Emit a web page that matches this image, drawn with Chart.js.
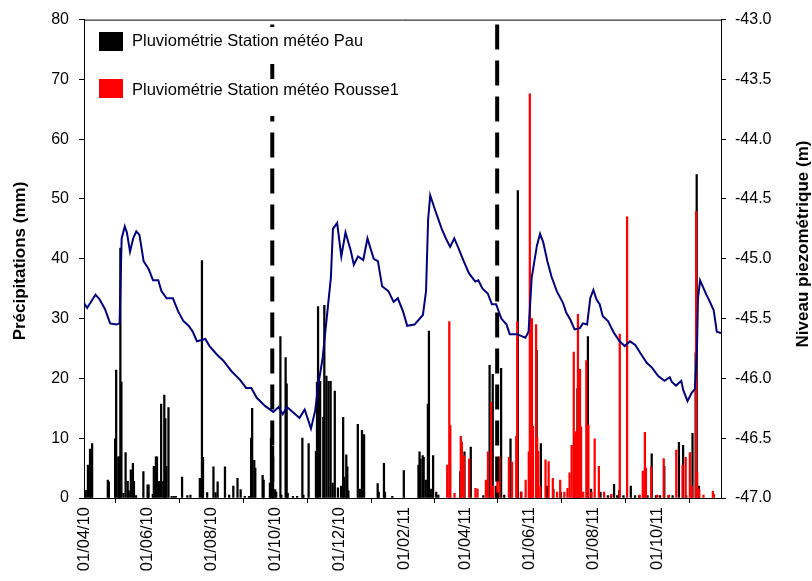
<!DOCTYPE html>
<html>
<head>
<meta charset="utf-8">
<script src="https://cdn.jsdelivr.net/npm/chart.js@4.4.1/dist/chart.umd.min.js"></script>
<style>
  html, body { margin: 0; padding: 0; background: #fff; }
  #chart { display: block; }
</style>
</head>
<body>
<canvas id="chart" width="812" height="581"></canvas>
<script>
// x values are days since 01/04/10
const tickDays = [0, 61, 122, 183, 244, 306, 365, 426, 487, 548, 609];
const tickLabels = ['01/04/10', '01/06/10', '01/08/10', '01/10/10', '01/12/10', '01/02/11',
    '01/04/11', '01/06/11', '01/08/11', '01/10/11', ''];

const seriesNames = ['Pluviométrie Station météo Pau', 'Pluviométrie Station météo Rousse1'];
const seriesColors = ['#000000', '#ff0000'];

// Pluviométrie Pau (mm)
const pauDays = [1, 3, 5, 6, 7, 22, 23, 29, 30, 32, 33, 34, 35, 37, 39, 41, 42, 44, 46, 47,
    49, 56, 60, 61, 65, 66, 68, 69, 71, 73, 75, 76, 77, 78, 80, 83, 85, 87, 93, 98,
    101, 110, 112, 113, 117, 123, 125, 127, 134, 138, 142, 146, 149, 153, 157, 159, 160, 162, 163, 170,
    171, 177, 178, 179, 180, 182, 183, 187, 188, 192, 193, 194, 199, 203, 208, 209, 214, 221, 222, 223,
    225, 228, 229, 231, 233, 235, 237, 239, 242, 245, 247, 248, 250, 251, 252, 261, 263, 265, 267, 280,
    281, 286, 287, 294, 305, 319, 320, 321, 323, 324, 326, 328, 329, 331, 333, 336, 338, 359, 363, 369,
    381, 387, 390, 393, 398, 401, 407, 414, 417, 432, 436, 442, 448, 455, 468, 471, 473, 481, 484, 493,
    500, 503, 506, 509, 511, 515, 522, 526, 530, 534, 538, 542, 546, 550, 554, 558, 562, 568, 572, 575,
    581, 584, 585, 587];
const pauRain = [1.3, 5.5, 8.2, 2.4, 9.1, 3.0, 2.7, 9.9, 21.4, 6.9, 6.9, 41.8, 19.4, 0.8, 7.6, 2.8, 1.2, 4.7, 5.8, 2.8,
    0.4, 4.4, 2.2, 2.2, 0.6, 5.3, 6.9, 6.9, 2.8, 15.7, 2.8, 17.2, 13.3, 5.3, 15.1, 0.3, 0.3, 0.3, 3.5, 0.4,
    0.5, 3.3, 39.7, 6.8, 0.9, 5.2, 0.9, 2.7, 5.2, 0.5, 2.0, 3.3, 1.4, 0.3, 0.3, 10.0, 15.0, 6.3, 5.0, 3.8,
    3.0, 2.5, 10.0, 2.8, 8.7, 1.4, 1.0, 27.0, 0.5, 23.5, 19.1, 0.8, 0.3, 0.3, 10.0, 0.5, 9.1, 7.8, 19.4, 32.0,
    19.5, 13.5, 32.2, 20.4, 19.5, 19.5, 2.5, 17.9, 1.7, 2.0, 13.5, 3.5, 7.2, 5.2, 1.2, 12.3, 1.5, 11.3, 10.6, 2.4,
    1.0, 5.8, 1.0, 0.3, 4.6, 5.5, 7.7, 6.5, 7.1, 6.8, 3.0, 15.7, 27.9, 1.5, 7.1, 1.0, 0.5, 4.4, 7.7, 8.5,
    0.4, 22.2, 20.7, 2.0, 21.7, 0.5, 9.9, 51.4, 1.0, 24.7, 9.1, 2.0, 1.5, 1.0, 10.2, 18.3, 20.5, 27.0, 1.5, 1.0,
    0.4, 0.4, 2.3, 0.4, 1.3, 0.4, 2.0, 0.4, 0.4, 0.4, 0.4, 7.4, 0.4, 0.4, 5.3, 0.4, 0.4, 9.3, 8.8, 0.4,
    10.8, 24.3, 54.1, 2.0];

// Pluviométrie Rousse1 (mm)
const rousseDays = [348, 350, 351, 355, 361, 362, 364, 369, 375, 377, 385, 387, 390, 392, 396, 398, 407, 410, 414, 415,
    419, 423, 426, 427, 428, 429, 430, 433, 434, 435, 437, 442, 445, 449, 453, 456, 460, 463, 465, 467,
    469, 471, 473, 475, 476, 478, 481, 483, 486, 489, 493, 498, 505, 513, 520, 532, 535, 537, 538, 543,
    549, 555, 560, 567, 573, 576, 580, 582, 586, 587, 589, 593, 602, 603];
const rousseRain = [5.5, 29.5, 12.1, 0.8, 10.3, 9.4, 7.1, 6.5, 1.6, 1.5, 3.0, 7.7, 16.0, 2.0, 6.6, 6.9, 6.8, 6.0, 10.3, 29.5,
    1.0, 3.0, 7.7, 67.6, 6.0, 30.0, 12.0, 29.0, 10.0, 7.8, 2.0, 6.4, 6.1, 3.3, 1.0, 3.0, 1.0, 1.6, 4.2, 8.8,
    24.4, 11.1, 30.7, 21.5, 11.9, 1.0, 23.0, 12.2, 1.0, 9.9, 5.3, 1.0, 0.6, 27.4, 47.0, 0.5, 4.5, 11.0, 5.0, 5.2,
    0.5, 6.6, 0.5, 8.0, 5.5, 6.8, 7.6, 2.0, 47.9, 4.3, 1.5, 0.5, 1.1, 0.6];

// Niveau piézométrique (m)
const piezoDays = [0, 3, 6, 11, 15, 20, 25, 31, 34, 36, 39, 41, 44, 47, 50, 53, 57, 62, 66, 71,
    74, 79, 85, 90, 95, 100, 104, 108, 116, 120, 127, 133, 141, 149, 155, 160, 165, 173, 181, 186,
    190, 194, 202, 206, 211, 217, 221, 224, 228, 232, 236, 238, 242, 246, 250, 255, 258, 262, 267, 271,
    277, 281, 285, 291, 296, 300, 305, 309, 316, 324, 327, 329, 331, 336, 342, 346, 350, 354, 358, 363,
    368, 374, 377, 381, 386, 390, 394, 399, 404, 407, 414, 422, 425, 428, 433, 436, 439, 443, 447, 452,
    458, 461, 465, 469, 474, 477, 481, 484, 487, 490, 493, 496, 501, 506, 512, 517, 522, 527, 532, 538,
    543, 549, 555, 560, 562, 566, 571, 573, 577, 581, 584, 586, 587, 589, 591, 595, 599, 602, 605, 609];
const piezoLevel = [-45.37, -45.41, -45.37, -45.30, -45.34, -45.42, -45.54, -45.55, -45.54, -44.83, -44.73, -44.78, -44.94, -44.83, -44.77, -44.80, -45.02, -45.09, -45.18, -45.18,
    -45.27, -45.33, -45.33, -45.44, -45.52, -45.56, -45.61, -45.69, -45.67, -45.73, -45.80, -45.85, -45.94, -46.01, -46.08, -46.08, -46.16, -46.23, -46.28, -46.24,
    -46.30, -46.24, -46.30, -46.33, -46.26, -46.42, -46.27, -46.05, -45.84, -45.50, -45.16, -44.75, -44.70, -44.98, -44.78, -44.93, -45.05, -44.98, -45.01, -44.83,
    -45.00, -45.02, -45.23, -45.27, -45.36, -45.33, -45.44, -45.56, -45.55, -45.47, -45.27, -44.67, -44.47, -44.60, -44.75, -44.83, -44.90, -44.83, -44.91, -45.02,
    -45.12, -45.19, -45.18, -45.25, -45.29, -45.38, -45.38, -45.50, -45.55, -45.63, -45.63, -45.66, -45.61, -45.16, -44.89, -44.79, -44.86, -45.02, -45.15, -45.27,
    -45.37, -45.45, -45.51, -45.59, -45.58, -45.54, -45.55, -45.33, -45.26, -45.34, -45.38, -45.48, -45.52, -45.61, -45.69, -45.73, -45.69, -45.72, -45.79, -45.87,
    -45.91, -45.98, -46.02, -45.99, -46.03, -46.06, -46.02, -46.10, -46.19, -46.12, -46.09, -45.77, -45.33, -45.18, -45.22, -45.30, -45.37, -45.43, -45.61, -45.62];

// vertical dashed markers
const markerDays = [180, 395];
const markerTop = 79.2;

const FONT = "'Liberation Sans', Arial, sans-serif";

const toPoints = (xs, ys) => xs.map((x, i) => ({ x: x, y: ys[i] }));

const markerSets = markerDays.map(d => ({
    type: 'line',
    data: [{ x: d, y: markerTop }, { x: d, y: 0 }],
    yAxisID: 'y',
    borderColor: '#000',
    borderWidth: 4,
    borderDash: [25, 11],
    borderCapStyle: 'butt',
    pointRadius: 0,
    order: 0
}));

const overlay = {
    id: 'overlay',
    afterDraw(chart) {
        const ctx = chart.ctx;
        const area = chart.chartArea;
        ctx.save();

        // top frame
        ctx.strokeStyle = '#000';
        ctx.lineWidth = 1;
        ctx.beginPath();
        ctx.moveTo(area.left, area.top + 0.5);
        ctx.lineTo(area.right, area.top + 0.5);
        ctx.stroke();

        // legend (white behind each entry)
        const boxY = [32, 79];
        const bgY = [27, 79];
        const textY = [41, 90];
        ctx.font = '16.5px ' + FONT;
        ctx.textAlign = 'left';
        ctx.textBaseline = 'middle';
        seriesNames.forEach((name, i) => {
            ctx.fillStyle = '#fff';
            ctx.fillRect(94, bgY[i], 312, 37);
            ctx.fillStyle = seriesColors[i];
            ctx.fillRect(99, boxY[i], 24, 19);
            ctx.fillStyle = '#000';
            ctx.fillText(name, 132, textY[i]);
        });

        // axis titles
        ctx.font = 'bold 17px ' + FONT;
        ctx.textAlign = 'center';
        ctx.save();
        ctx.translate(20, 261);
        ctx.rotate(-Math.PI / 2);
        ctx.fillText('Précipitations (mm)', 0, 0);
        ctx.restore();
        ctx.save();
        ctx.translate(803, 244);
        ctx.rotate(-Math.PI / 2);
        ctx.fillText('Niveau piezométrique (m)', 0, 0);
        ctx.restore();

        ctx.restore();
    }
};

const axisGrid = {
    drawOnChartArea: false,
    drawTicks: true,
    tickLength: 5,
    color: '#000'
};

new Chart(document.getElementById('chart'), {
    type: 'bar',
    data: {
        datasets: [
            ...markerSets,
            {
                type: 'line',
                label: 'Niveau piezométrique',
                data: toPoints(piezoDays, piezoLevel),
                yAxisID: 'y2',
                borderColor: '#000080',
                borderWidth: 2,
                pointRadius: 0,
                tension: 0,
                order: 1
            },
            {
                label: seriesNames[1],
                data: toPoints(rousseDays, rousseRain),
                yAxisID: 'y',
                backgroundColor: seriesColors[1],
                barThickness: 1.6,
                order: 2
            },
            {
                label: seriesNames[0],
                data: toPoints(pauDays, pauRain),
                yAxisID: 'y',
                backgroundColor: seriesColors[0],
                barThickness: 1.6,
                order: 3
            }
        ]
    },
    options: {
        responsive: false,
        animation: false,
        devicePixelRatio: 1,
        layout: { padding: { top: 16, left: 0, right: 0, bottom: 0 } },
        plugins: {
            legend: { display: false },
            tooltip: { enabled: false }
        },
        scales: {
            x: {
                type: 'linear',
                min: 0,
                max: 609,
                offset: false,
                grid: axisGrid,
                border: { color: '#000', width: 1 },
                afterBuildTicks: axis => {
                    axis.ticks = tickDays.map(v => ({ value: v }));
                },
                afterFit: scale => { scale.height = 83; },
                ticks: {
                    autoSkip: false,
                    minRotation: 90,
                    maxRotation: 90,
                    padding: 4,
                    color: '#000',
                    font: { size: 16.5, family: FONT },
                    callback: value => tickLabels[tickDays.indexOf(value)]
                }
            },
            y: {
                position: 'left',
                min: 0,
                max: 80,
                grid: axisGrid,
                border: { color: '#000', width: 1 },
                afterFit: scale => { scale.width = 84; },
                ticks: {
                    stepSize: 10,
                    padding: 10,
                    color: '#000',
                    font: { size: 16, family: FONT }
                }
            },
            y2: {
                position: 'right',
                min: -47,
                max: -43,
                grid: axisGrid,
                border: { color: '#000', width: 1 },
                afterFit: scale => { scale.width = 91; },
                ticks: {
                    stepSize: 0.5,
                    padding: 9,
                    color: '#000',
                    font: { size: 16, family: FONT },
                    callback: value => value.toFixed(1)
                }
            }
        }
    },
    plugins: [overlay]
});
</script>
</body>
</html>
